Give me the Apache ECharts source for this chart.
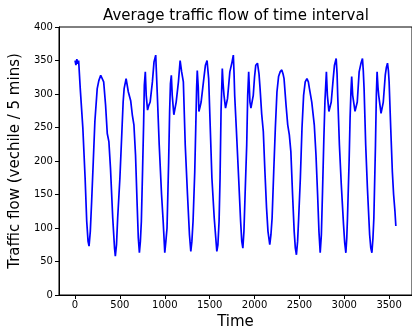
<!DOCTYPE html>
<html>
<head>
<meta charset="utf-8">
<script src="https://cdn.jsdelivr.net/npm/echarts@6/dist/echarts.min.js"></script>
<style>
html, body { margin: 0; padding: 0; background: #fff; }
#chart { width: 412px; height: 335px; }
</style>
</head>
<body>
<div id="chart"></div>
<script>
// traffic flow readings
const times = [
    0, 10, 20, 30, 40, 58, 87, 112, 130, 145, 156, 170, 185, 203, 221, 247, 265, 286, 300, 319,
    340, 359, 377, 395, 420, 440, 449, 462, 475, 500, 522, 536, 547, 569, 594, 620, 638, 656, 674, 692,
    705, 717, 728, 739, 753, 764, 772, 783, 793, 808, 822, 837, 862, 880, 899, 917, 938, 964, 982, 1000,
    1012, 1025, 1043, 1054, 1063, 1073, 1083, 1101, 1127, 1152, 1171, 1188, 1207, 1228, 1253, 1275, 1290, 1302, 1315, 1334,
    1345, 1355, 1362, 1373, 1380, 1392, 1405, 1435, 1453, 1471, 1489, 1507, 1525, 1551, 1580, 1592, 1605, 1616, 1627, 1641,
    1650, 1660, 1677, 1699, 1725, 1750, 1764, 1772, 1779, 1797, 1823, 1845, 1858, 1870, 1882, 1895, 1913, 1924, 1935, 1949,
    1960, 1986, 2000, 2014, 2033, 2050, 2062, 2080, 2098, 2116, 2134, 2150, 2170, 2183, 2196, 2214, 2232, 2250, 2268, 2285,
    2304, 2318, 2329, 2351, 2370, 2388, 2405, 2424, 2442, 2455, 2467, 2480, 2492, 2511, 2529, 2547, 2565, 2584, 2600, 2612,
    2638, 2666, 2685, 2703, 2718, 2732, 2745, 2758, 2772, 2785, 2801, 2812, 2829, 2855, 2877, 2891, 2910, 2920, 2927, 2946,
    2967, 2992, 3005, 3018, 3028, 3036, 3054, 3065, 3075, 3083, 3094, 3120, 3145, 3166, 3185, 3203, 3212, 3221, 3239, 3258,
    3283, 3296, 3308, 3320, 3330, 3348, 3358, 3366, 3376, 3384, 3410, 3435, 3457, 3470, 3482, 3492, 3500, 3518, 3536, 3550,
    3565, 3575
]
const flows = [
    350, 343, 352, 345, 350, 308, 249, 175, 110, 80, 73, 95, 140, 199, 259, 308, 320, 328, 326, 318,
    284, 241, 229, 189, 115, 70, 58, 75, 115, 175, 244, 288, 308, 323, 303, 290, 269, 254, 209, 135,
    85, 63, 80, 110, 189, 254, 313, 333, 298, 276, 283, 288, 318, 348, 358, 298, 224, 150, 110, 63,
    80, 100, 199, 274, 315, 328, 298, 269, 288, 318, 350, 333, 318, 224, 150, 90, 65, 80, 110, 184,
    249, 310, 335, 310, 274, 280, 288, 323, 343, 350, 323, 249, 175, 115, 65, 75, 110, 175, 274, 338,
    315, 298, 279, 293, 333, 348, 358, 330, 298, 249, 175, 110, 80, 70, 95, 150, 224, 298, 333, 288,
    279, 298, 325, 343, 346, 330, 308, 270, 244, 184, 130, 95, 75, 90, 115, 184, 249, 303, 326, 333,
    336, 330, 323, 284, 254, 239, 214, 150, 95, 70, 60, 80, 115, 175, 249, 298, 318, 323, 318, 308,
    288, 254, 209, 150, 95, 63, 90, 155, 230, 290, 333, 298, 274, 288, 323, 343, 353, 330, 298, 224,
    165, 105, 78, 63, 85, 115, 199, 264, 305, 326, 298, 274, 288, 333, 345, 353, 335, 308, 224, 160,
    90, 70, 63, 85, 115, 224, 300, 333, 310, 298, 271, 288, 328, 340, 346, 335, 318, 249, 184, 150,
    125, 103
]
const xTicks = [0, 500, 1000, 1500, 2000, 2500, 3000, 3500]

const myChart = echarts.init(document.getElementById('chart'))
const points = times.map((t, i) => [t, flows[i]])
const font = 'DejaVu Sans'

const option = {
    animation: false,
    backgroundColor: '#fff',
    title: {
        text: 'Average traffic flow of time interval',
        left: 98,
        top: 4,
        textStyle: { fontFamily: font, fontSize: 15, fontWeight: 'normal', color: '#000' }
    },
    grid: {
        left: 57,
        top: 27,
        bottom: 39,
        right: -7,
        show: true,
        borderColor: '#000',
        borderWidth: 1,
        backgroundColor: 'transparent'
    },
    xAxis: {
        type: 'value',
        min: -179,
        max: 3755,
        name: 'Time',
        nameLocation: 'middle',
        nameGap: 20,
        nameTextStyle: { fontFamily: font, fontSize: 15, color: '#000' },
        axisLine: { show: true, onZero: false, lineStyle: { color: '#000', width: 1 } },
        axisTick: { show: true, inside: false, length: 4, customValues: xTicks, lineStyle: { color: '#000' } },
        axisLabel: {
            customValues: xTicks,
            fontFamily: font,
            fontSize: 10,
            color: '#000',
            margin: 5,
            formatter: (val) => String(val)
        },
        splitLine: { show: false }
    },
    yAxis: {
        type: 'value',
        min: 0,
        max: 400,
        interval: 50,
        name: 'Traffic flow (vechile / 5 mins)',
        nameLocation: 'middle',
        nameGap: 27,
        nameTextStyle: { fontFamily: font, fontSize: 15, color: '#000' },
        axisLine: { show: true, onZero: false, lineStyle: { color: '#000', width: 1 } },
        axisTick: { show: true, inside: false, length: 4, lineStyle: { color: '#000' } },
        axisLabel: { fontFamily: font, fontSize: 10, color: '#000', margin: 6 },
        splitLine: { show: false }
    },
    series: [
        {
            type: 'line',
            data: points,
            showSymbol: false,
            lineStyle: { color: '#0000ff', width: 1.7 },
            itemStyle: { color: '#0000ff' }
        }
    ]
}
myChart.setOption(option)
</script>
</body>
</html>
